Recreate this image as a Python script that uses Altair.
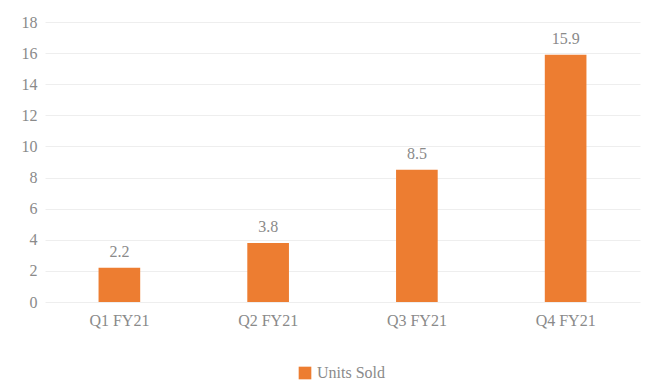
import altair as alt
import pandas as pd

quarters = ["Q1 FY21", "Q2 FY21", "Q3 FY21", "Q4 FY21"]
values = [2.2, 3.8, 8.5, 15.9]
series = ["Units Sold"] * 4
y_ticks = [0, 2, 4, 6, 8, 10, 12, 14, 16, 18]

df = pd.DataFrame({"quarter": quarters, "value": values, "series": series})

x = alt.X("quarter:N", sort=quarters, title=None,
          scale=alt.Scale(paddingInner=0.72, paddingOuter=0.36),
          axis=alt.Axis(labelAngle=0, labelFontSize=16, labelColor="#8a8a8a",
                        labelFont="Liberation Serif", ticks=False, domain=False,
                        labelPadding=10))
y = alt.Y("value:Q", title=None,
          scale=alt.Scale(domain=[0, 18], nice=False),
          axis=alt.Axis(values=y_ticks, tickCount=10, labelFontSize=16, labelOverlap=False,
                        labelColor="#8a8a8a", labelFont="Liberation Serif",
                        ticks=False, domain=False, gridColor="#eeeeee",
                        labelPadding=8))

bars = alt.Chart(df).mark_bar(color="#ed7d31").encode(
    x=x, y=y,
    color=alt.Color("series:N", scale=alt.Scale(range=["#ed7d31"]),
                    legend=alt.Legend(orient="none", legendX=252, legendY=343,
                                      title=None, labelFontSize=16,
                                      labelColor="#8a8a8a", labelFont="Liberation Serif",
                                      symbolType="square", symbolSize=160)))

labels = alt.Chart(df).mark_text(dy=-16, fontSize=16, color="#8a8a8a",
                                  font="Liberation Serif").encode(
    x=x,
    y=y,
    text=alt.Text("value:Q", format=".1f"))

chart = (bars + labels).properties(
    width=595, height=280,
    padding={"left": 45, "top": 22, "right": 8, "bottom": 90},
    autosize=alt.AutoSizeParams(type="none"),
).configure_view(stroke=None)

chart.save("out.html", embed_options={"renderer": "svg", "actions": False})
